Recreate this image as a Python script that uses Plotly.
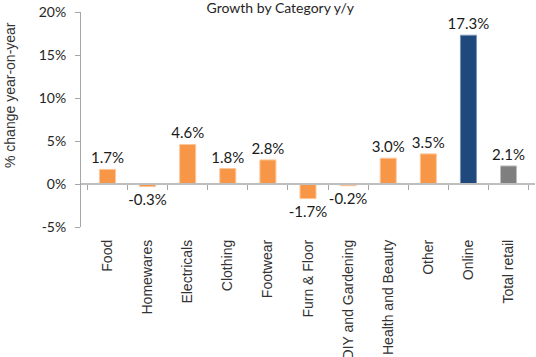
import plotly.graph_objects as go

categories = ["Food", "Homewares", "Electricals", "Clothing", "Footwear", "Furn & Floor",
              "DIY and Gardening", "Health and Beauty", "Other", "Online", "Total retail"]
growth = [1.7, -0.3, 4.6, 1.8, 2.8, -1.7, -0.2, 3.0, 3.5, 17.3, 2.1]
y_ticks = [-5, 0, 5, 10, 15, 20]
y_tick_labels = ["-5%", "0%", "5%", "10%", "15%", "20%"]

ORANGE = "#F79646"
NAVY = "#1F497D"
GREY = "#7F7F7F"
bar_colors = [NAVY if c == "Online" else GREY if c == "Total retail" else ORANGE for c in categories]
edge_colors = ["#7A93B8" if c == "Online" else "#BFBFBF" if c == "Total retail" else "#FBC79E" for c in categories]
labels = [f"{v:.1f}%" for v in growth]

fig = go.Figure()
fig.add_trace(go.Bar(
    x=categories, y=growth,
    marker=dict(color=bar_colors, line=dict(color=edge_colors, width=1)),
    text=labels, textposition="outside", constraintext="none",
    textfont=dict(family="Lato", size=15, color="#1a1a1a"),
    cliponaxis=False, width=0.4,
))
# helper invisible trace to draw the zero-line axis with boundary ticks
fig.add_trace(go.Scatter(x=categories, y=[0] * len(categories), xaxis="x2",
                         mode="markers", marker=dict(opacity=0), hoverinfo="skip",
                         showlegend=False))

fig.update_layout(
    width=536, height=357,
    margin=dict(l=81, r=1, t=12, b=130, autoexpand=False),
    plot_bgcolor="white", paper_bgcolor="white",
    showlegend=False,
    title=dict(text="Growth by Category y/y", x=0.523, xref="container", xanchor="center",
               y=0.978, yref="container", yanchor="middle",
               font=dict(family="Lato", size=14, color="#262626")),
    xaxis=dict(
        type="category", showline=False, ticks="", showgrid=False, zeroline=False,
        tickangle=-90, ticklabelstandoff=9, automargin=False,
        tickfont=dict(family="Liberation Sans", size=14, color="#333333"),
    ),
    xaxis2=dict(
        type="category", overlaying="x", matches="x", anchor="free", position=0.2,
        side="bottom", showticklabels=False, showline=True, linecolor="#BFBFBF", linewidth=2,
        ticks="outside", tickson="boundaries", ticklen=5, tickcolor="#A6A6A6", tickwidth=1,
        showgrid=False, zeroline=False, automargin=False,
    ),
    yaxis=dict(
        range=[-5, 20], tickvals=y_ticks, ticktext=y_tick_labels,
        showline=True, linecolor="#A6A6A6", linewidth=1, automargin=False,
        ticks="outside", ticklen=5, tickcolor="#A6A6A6",
        showgrid=False, zeroline=False, ticklabelstandoff=6,
        tickfont=dict(family="Lato", size=14, color="#262626"),
    ),
    annotations=[dict(
        text="% change year-on-year", textangle=-90,
        xref="paper", x=0, xshift=-71, xanchor="center",
        yref="paper", y=(227 - 95) / 215, yanchor="middle",
        showarrow=False, font=dict(family="Liberation Sans", size=14, color="#333333"),
    )],
)

fig.write_html("out.html", include_plotlyjs=True, config={"displayModeBar": False},
               post_script="document.body.style.margin='0';document.body.style.overflow='hidden';")
